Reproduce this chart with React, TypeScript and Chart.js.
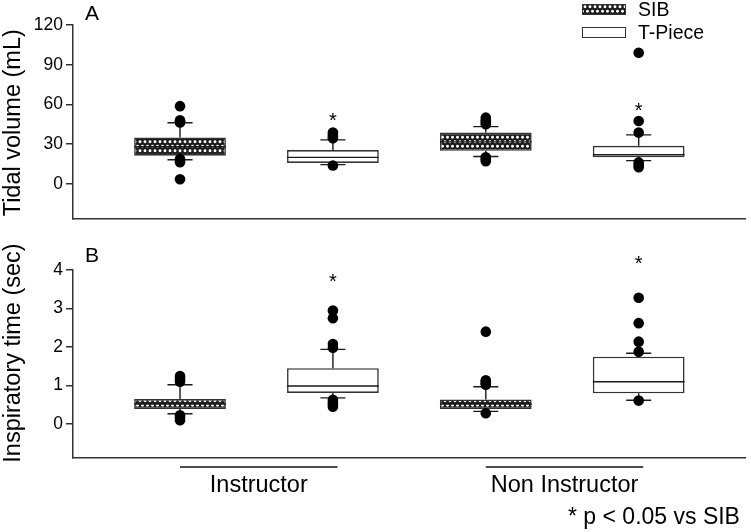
import { useEffect, useRef } from 'react';
import { Chart, registerables } from 'chart.js';

Chart.register(...registerables);

const FONT = '"Liberation Sans", Arial, Helvetica, sans-serif';

// ---- shared categories ----
const boxPositions = [0, 1, 2, 3];
const boxDevice = ['SIB', 'T-Piece', 'SIB', 'T-Piece'];
const legendLabels = ['SIB', 'T-Piece'];
const groupLabels = ['Instructor', 'Non Instructor'];
const groupSpans = [[0, 1.03], [2, 3.03]];
const footnote = '* p < 0.05 vs SIB';

// ---- Panel A: tidal volume (mL) ----
const tvTitle = 'Tidal volume (mL)';
const tvTicks = [0, 30, 60, 90, 120];
const tvQ1 = [21.3, 15.8, 25, 20];
const tvMedian = [28, 20, 31.7, 22];
const tvQ3 = [35, 25.5, 38.7, 28.7];
const tvLow = [18.2, 14.5, 20.7, 17.5];
const tvHigh = [46.2, 33.2, 43.2, 37];
const tvOutliers = [
  [58.7, 48, 47, 46.3, 18.7, 17.5, 16.3, 3.4],
  [38.7, 37, 35.5, 34.5, 13.8],
  [50, 48, 46.5, 45, 20, 18.5, 17],
  [99, 47.5, 38.7, 16.2, 14.5, 12.5],
];
const tvStars = [null, 51, null, 58.7];

// ---- Panel B: inspiratory time (sec) ----
const itTitle = 'Inspiratory time (sec)';
const itTicks = [0, 1, 2, 3, 4];
const itQ1 = [0.39, 0.81, 0.39, 0.8];
const itMedian = [0.52, 0.99, 0.52, 1.1];
const itQ3 = [0.65, 1.45, 0.64, 1.75];
const itLow = [0.27, 0.68, 0.33, 0.62];
const itHigh = [1.02, 1.94, 0.97, 1.84];
const itOutliers = [
  [1.25, 1.2, 1.15, 1.1, 0.23, 0.18, 0.1],
  [2.95, 2.75, 2.08, 1.98, 0.63, 0.56, 0.5, 0.45],
  [2.4, 1.14, 1.1, 1.06, 1.02, 0.28],
  [3.28, 2.62, 2.14, 1.88, 0.61],
];
const itStars = [null, 3.81, null, 4.26];

type Stats = {
  q1: number[];
  med: number[];
  q3: number[];
  lo: number[];
  hi: number[];
  outliers: number[][];
  stars: (number | null)[];
};

const AXIS = '#333333';

function makeHatch(): CanvasPattern | string {
  const c = document.createElement('canvas');
  c.width = 5;
  c.height = 9;
  const g = c.getContext('2d');
  if (!g) return '#444';
  g.fillStyle = '#1c1c1c';
  g.fillRect(0, 0, 5, 9);
  g.fillStyle = '#ffffff';
  const dots = [
    [2.5, 2.25],
    [0, 6.75],
    [5, 6.75],
  ];
  for (const [dx, dy] of dots) {
    g.beginPath();
    g.arc(dx, dy, 1.45, 0, Math.PI * 2);
    g.fill();
  }
  const p = g.createPattern(c, 'repeat');
  return p || '#444';
}

function makePlugin(
  stats: Stats,
  letter: string,
  letterY: number,
  showLegend: boolean,
  showGroups: boolean,
  hatch: CanvasPattern | string,
  title: string,
  titleShift: number
) {
  return {
    id: 'boxExtras' + letter,
    afterDatasetDraw(chart: any, args: any) {
      const meta = args.meta;
      if (meta.type !== 'bar') return;
      const ctx = chart.ctx as CanvasRenderingContext2D;
      const xs = chart.scales.x;
      const ys = chart.scales.y;
      const ds = chart.data.datasets[args.index];
      ctx.save();
      ctx.strokeStyle = '#1a1a1a';
      ctx.lineWidth = 1.4;
      ds.data.forEach((pt: any, j: number) => {
        const i = pt.x as number;
        const el = meta.data[j];
        const cx = xs.getPixelForValue(i);
        const half = el.width / 2;
        const capL = xs.getPixelForValue(i - 0.082);
        const capR = xs.getPixelForValue(i + 0.082);
        const yq1 = ys.getPixelForValue(stats.q1[i]);
        const yq3 = ys.getPixelForValue(stats.q3[i]);
        const ylo = ys.getPixelForValue(stats.lo[i]);
        const yhi = ys.getPixelForValue(stats.hi[i]);
        const ymed = ys.getPixelForValue(stats.med[i]);
        ctx.beginPath();
        ctx.moveTo(cx, yq3);
        ctx.lineTo(cx, yhi);
        ctx.moveTo(capL, yhi);
        ctx.lineTo(capR, yhi);
        ctx.moveTo(cx, yq1);
        ctx.lineTo(cx, ylo);
        ctx.moveTo(capL, ylo);
        ctx.lineTo(capR, ylo);
        ctx.moveTo(cx - half, ymed);
        ctx.lineTo(cx + half, ymed);
        ctx.stroke();
      });
      ctx.restore();
    },
    afterDraw(chart: any) {
      const ctx = chart.ctx as CanvasRenderingContext2D;
      const xs = chart.scales.x;
      const ys = chart.scales.y;
      const area = chart.chartArea;
      ctx.save();
      ctx.fillStyle = '#000';
      // y-axis title (rotated)
      ctx.save();
      ctx.translate(14, (area.top + area.bottom) / 2 + titleShift);
      ctx.rotate(-Math.PI / 2);
      ctx.font = `23.5px ${FONT}`;
      ctx.textAlign = 'center';
      ctx.textBaseline = 'middle';
      ctx.fillText(title, 0, 0);
      ctx.restore();
      // panel letter
      ctx.font = `21px ${FONT}`;
      ctx.textAlign = 'left';
      ctx.textBaseline = 'middle';
      ctx.fillText(letter, 85, letterY);
      // significance stars
      ctx.font = `20px ${FONT}`;
      ctx.textAlign = 'center';
      ctx.textBaseline = 'alphabetic';
      stats.stars.forEach((s, i) => {
        if (s === null) return;
        ctx.fillText('*', xs.getPixelForValue(boxPositions[i]), ys.getPixelForValue(s) + 10.5);
      });
      if (showLegend) {
        const swatches = [
          { fill: hatch, y: 4 },
          { fill: '#ffffff', y: 27 },
        ];
        swatches.forEach((sw, k) => {
          ctx.fillStyle = sw.fill as any;
          ctx.fillRect(582, sw.y, 44, 11);
          ctx.strokeStyle = AXIS;
          ctx.lineWidth = 1;
          ctx.strokeRect(582.5, sw.y + 0.5, 43, 10);
          ctx.fillStyle = '#000';
          ctx.font = `19.5px ${FONT}`;
          ctx.textAlign = 'left';
          ctx.textBaseline = 'middle';
          ctx.fillText(legendLabels[k], 638, sw.y + 6.5);
        });
      }
      if (showGroups) {
        ctx.strokeStyle = '#111';
        ctx.lineWidth = 1.5;
        ctx.fillStyle = '#000';
        ctx.font = `23.5px ${FONT}`;
        ctx.textAlign = 'center';
        ctx.textBaseline = 'middle';
        const lineY = area.bottom + 9;
        groupLabels.forEach((lab, g) => {
          const [a, b] = groupSpans[g];
          const xa = xs.getPixelForValue(a);
          const xb = xs.getPixelForValue(b);
          ctx.beginPath();
          ctx.moveTo(xa, lineY);
          ctx.lineTo(xb, lineY);
          ctx.stroke();
          ctx.fillText(lab, (xa + xb) / 2, lineY + 19);
        });
        ctx.font = `23px ${FONT}`;
        ctx.textAlign = 'left';
        ctx.fillText(footnote, 568, lineY + 51);
      }
      ctx.restore();
    },
  };
}

function buildConfig(
  stats: Stats,
  ticks: number[],
  yMin: number,
  yMax: number,
  padding: { top: number; bottom: number },
  plugin: any,
  hatch: CanvasPattern | string
) {
  const sibData = boxPositions
    .filter((_, i) => boxDevice[i] === 'SIB')
    .map((p) => ({ x: p, y: [stats.q1[p], stats.q3[p]] }));
  const tpData = boxPositions
    .filter((_, i) => boxDevice[i] === 'T-Piece')
    .map((p) => ({ x: p, y: [stats.q1[p], stats.q3[p]] }));
  const outlierData: { x: number; y: number }[] = [];
  stats.outliers.forEach((arr, i) => arr.forEach((v) => outlierData.push({ x: boxPositions[i], y: v })));

  return {
    type: 'bar',
    data: {
      datasets: [
        {
          type: 'scatter',
          label: 'outliers',
          data: outlierData,
          pointRadius: 5.3,
          pointBackgroundColor: '#000',
          pointBorderColor: '#000',
          pointBorderWidth: 0,
          showLine: false,
          order: 0,
        },
        {
          label: legendLabels[0],
          data: sibData,
          backgroundColor: hatch,
          borderColor: AXIS,
          borderWidth: 1.6,
          borderSkipped: false,
          grouped: false,
          barPercentage: 0.6,
          categoryPercentage: 1,
          order: 1,
        },
        {
          label: legendLabels[1],
          data: tpData,
          backgroundColor: '#ffffff',
          borderColor: AXIS,
          borderWidth: 1.6,
          borderSkipped: false,
          grouped: false,
          barPercentage: 0.6,
          categoryPercentage: 1,
          order: 1,
        },
      ],
    },
    options: {
      responsive: false,
      animation: false,
      events: [],
      layout: { padding: { top: padding.top, bottom: padding.bottom, left: 0, right: 3 } },
      plugins: { legend: { display: false }, tooltip: { enabled: false }, title: { display: false } },
      scales: {
        x: {
          type: 'linear',
          min: -0.7,
          max: 3.7,
          offset: false,
          afterBuildTicks: (s: any) => {
            s.ticks = boxPositions.map((v) => ({ value: v }));
          },
          afterFit: (s: any) => {
            s.height = 0;
          },
          ticks: { display: false },
          grid: { display: false, offset: false },
          border: { display: true, color: AXIS, width: 1.5 },
        },
        y: {
          type: 'linear',
          min: yMin,
          max: yMax,
          afterBuildTicks: (s: any) => {
            s.ticks = ticks.map((v) => ({ value: v }));
          },
          afterFit: (s: any) => {
            s.width = 73;
          },
          grid: {
            display: true,
            drawOnChartArea: false,
            drawTicks: true,
            tickLength: 7,
            color: AXIS,
            lineWidth: 1.5,
          },
          border: { display: true, color: AXIS, width: 1.5 },
          ticks: { font: { size: 17.5, family: FONT }, color: '#000', padding: 3 },
          title: { display: false },
        },
      },
    },
    plugins: [plugin],
  };
}

export default function App() {
  const refA = useRef<HTMLCanvasElement | null>(null);
  const refB = useRef<HTMLCanvasElement | null>(null);

  useEffect(() => {
    if (!refA.current || !refB.current) return;
    const hatch = makeHatch();
    const statsA: Stats = {
      q1: tvQ1, med: tvMedian, q3: tvQ3, lo: tvLow, hi: tvHigh, outliers: tvOutliers, stars: tvStars,
    };
    const statsB: Stats = {
      q1: itQ1, med: itMedian, q3: itQ3, lo: itLow, hi: itHigh, outliers: itOutliers, stars: itStars,
    };
    const chartA = new Chart(
      refA.current,
      buildConfig(statsA, tvTicks, -26.2, 120, { top: 25, bottom: 12 },
        makePlugin(statsA, 'A', 14, true, false, hatch, tvTitle, 1), hatch) as any
    );
    const chartB = new Chart(
      refB.current,
      buildConfig(statsB, itTicks, -0.88, 4, { top: 38, bottom: 74 },
        makePlugin(statsB, 'B', 24, false, true, hatch, itTitle, -11), hatch) as any
    );
    return () => {
      chartA.destroy();
      chartB.destroy();
    };
  }, []);

  return (
    <div style={{ position: 'absolute', left: 0, top: 0, width: 751, height: 532, background: '#fff' }}>
      <canvas ref={refA} width={751} height={232} style={{ position: 'absolute', left: 0, top: 0, display: 'block' }} />
      <canvas ref={refB} width={751} height={300} style={{ position: 'absolute', left: 0, top: 232, display: 'block' }} />
    </div>
  );
}
